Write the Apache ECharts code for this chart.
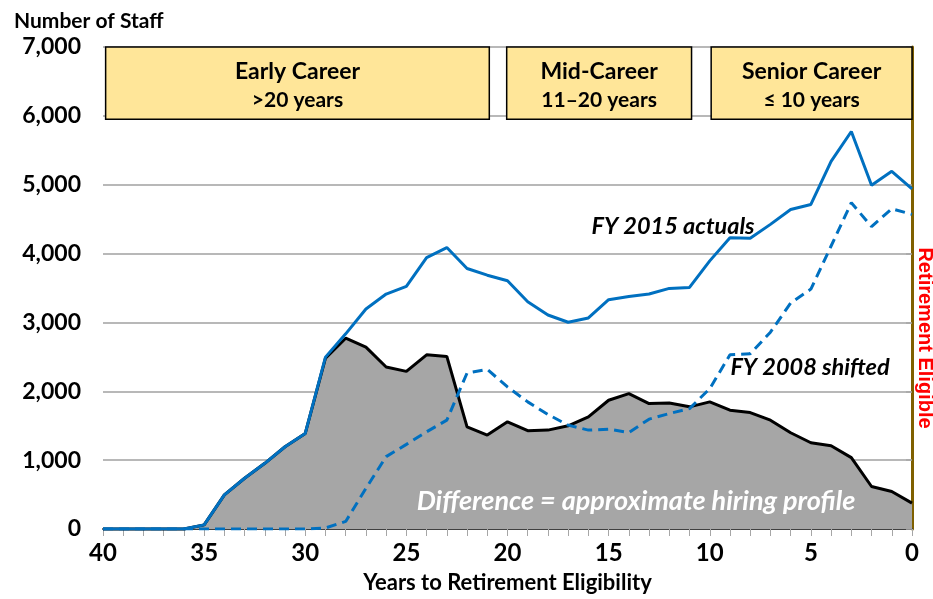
<!DOCTYPE html>
<html>
<head>
<meta charset="utf-8">
<title>Number of Staff by Years to Retirement Eligibility</title>
<script src="https://cdn.jsdelivr.net/npm/echarts@6/dist/echarts.min.js"></script>
<style>
  html, body { margin: 0; padding: 0; background: #ffffff; }
  #chart { width: 933px; height: 599px; }
</style>
</head>
<body>
<div id="chart"></div>
<script>
// Years to retirement eligibility, 40 down to 0
const years = [40, 39, 38, 37, 36, 35, 34, 33, 32, 31, 30, 29, 28, 27, 26, 25, 24, 23, 22, 21,
               20, 19, 18, 17, 16, 15, 14, 13, 12, 11, 10, 9, 8, 7, 6, 5, 4, 3, 2, 1, 0];

// FY 2015 actual staff counts
const fy2015Actuals = [0, 0, 0, 0, 0, 60, 496, 737, 954, 1195, 1388, 2496, 2834, 3195, 3412, 3523,
                       3942, 4087, 3783, 3686, 3605, 3301, 3108, 3003, 3065, 3330, 3378, 3412, 3494,
                       3508, 3894, 4231, 4221, 4424, 4641, 4713, 5339, 5773, 4992, 5194, 4940];

// FY 2008 staff counts shifted forward
const fy2008Shifted = [0, 0, 0, 0, 0, 0, 0, 0, 0, 0, 0, 15, 110, 590, 1051, 1229, 1412, 1581, 2265,
                       2318, 2063, 1846, 1663, 1508, 1436, 1450, 1402, 1595, 1677, 1749, 2038, 2530,
                       2544, 2858, 3282, 3484, 4110, 4738, 4391, 4651, 4569];

// Difference between the two: approximate hiring profile
const hiringProfile = [0, 0, 0, 0, 0, 60, 496, 737, 954, 1195, 1388, 2480, 2771, 2641, 2352, 2289,
                       2530, 2506, 1484, 1364, 1557, 1427, 1436, 1499, 1629, 1870, 1966, 1822, 1831,
                       1774, 1846, 1725, 1691, 1580, 1398, 1253, 1210, 1037, 617, 545, 376];

// Career stage bands
const stageNames = ['Early Career', 'Mid-Career', 'Senior Career'];
const stageSpans = ['>20 years', '11\u201320 years', '\u2264 10 years'];

// Y-axis tick values
const yTicks = [0, 1000, 2000, 3000, 4000, 5000, 6000, 7000];

const FONT = 'Lato, "Open Sans", sans-serif';
const pair = (arr) => years.map((y, i) => [y, arr[i]]);

// band extents on the axes (years, staff)
const bandBoxes = [
  [39.87, 20.9],
  [20.04, 10.9],
  [9.93, 0]
];
const bandBottom = 5950, bandTop = 7050;

const chart = echarts.init(document.getElementById('chart'), null, { renderer: 'canvas' });

const option = {
  backgroundColor: '#ffffff',
  animation: false,
  title: {
    text: 'Number of Staff',
    left: 9, top: 6,
    textStyle: { fontFamily: FONT, fontSize: 21, fontWeight: 'bold', color: '#000' }
  },
  grid: { left: 103, right: 21, top: 47, bottom: 68 },
  xAxis: {
    type: 'value',
    min: 0, max: 40, interval: 1,
    inverse: true,
    name: 'Years to Retirement Eligibility',
    nameLocation: 'middle',
    nameGap: 43,
    nameTextStyle: { fontFamily: FONT, fontSize: 22, fontWeight: 'bold', color: '#000' },
    axisLine: { show: true, lineStyle: { color: '#404040', width: 2 } },
    axisTick: { show: true, length: 7, lineStyle: { color: '#a6a6a6', width: 1 } },
    axisLabel: {
      margin: 12,
      fontFamily: FONT, fontSize: 24, fontWeight: 'bold', color: '#000',
      formatter: (v) => (v % 5 === 0 ? String(v) : '')
    },
    splitLine: { show: false }
  },
  yAxis: [
    {
      type: 'value',
      min: yTicks[0], max: yTicks[yTicks.length - 1], interval: 1000,
      axisLine: { show: true, lineStyle: { color: '#a6a6a6', width: 1.5 } },
      axisTick: { show: true, length: 6, lineStyle: { color: '#a6a6a6', width: 1.5 } },
      axisLabel: {
        margin: 22,
        fontFamily: FONT, fontSize: 23, fontWeight: 'bold', color: '#000',
        formatter: (v) => v.toLocaleString('en-US')
      },
      splitLine: { show: true, lineStyle: { color: '#a0a0a0', width: 1.5 } }
    },
    {
      // retirement eligibility boundary at year 0
      type: 'value',
      position: 'right',
      min: yTicks[0], max: yTicks[yTicks.length - 1], interval: 1000,
      axisLine: { show: true, onZero: false, lineStyle: { color: '#7f6000', width: 3 } },
      axisTick: { show: false },
      axisLabel: { show: false },
      splitLine: { show: false }
    }
  ],
  series: [
    {
      name: 'Difference',
      type: 'line',
      data: pair(hiringProfile),
      symbol: 'none',
      clip: false,
      z: 2,
      lineStyle: { color: '#000000', width: 3 },
      areaStyle: { color: '#a6a6a6', opacity: 1 },
      markArea: {
        silent: true,
        itemStyle: { color: '#ffe699', borderColor: '#000', borderWidth: 1.5, opacity: 1 },
        label: {
          show: true,
          position: 'inside',
          color: '#000',
          fontFamily: FONT,
          padding: [5, 0, 0, 0],
          formatter: (p) => '{a|' + p.name + '}\n{b|' + stageSpans[stageNames.indexOf(p.name)] + '}',
          rich: {
            a: { fontFamily: FONT, fontSize: 23, fontWeight: 'bold', color: '#000', lineHeight: 29 },
            b: { fontFamily: FONT, fontSize: 21, fontWeight: 'bold', color: '#000', lineHeight: 29 }
          }
        },
        data: stageNames.map((name, i) => [
          { name: name, xAxis: bandBoxes[i][0], yAxis: bandBottom },
          { xAxis: bandBoxes[i][1], yAxis: bandTop }
        ])
      }
    },
    {
      name: 'FY 2008 shifted',
      type: 'line',
      data: pair(fy2008Shifted),
      symbol: 'none',
      z: 3,
      lineStyle: { color: '#0070c0', width: 3, type: [10, 6] }
    },
    {
      name: 'FY 2015 actuals',
      type: 'line',
      data: pair(fy2015Actuals),
      symbol: 'none',
      z: 4,
      lineStyle: { color: '#0070c0', width: 3 }
    }
  ],
  graphic: [
    {
      type: 'text', x: 673, y: 226, z: 10,
      style: { text: 'FY 2015 actuals', align: 'center', verticalAlign: 'middle',
               font: 'italic bold 23.5px ' + FONT, fill: '#000' }
    },
    {
      type: 'text', x: 810, y: 367, z: 10,
      style: { text: 'FY 2008 shifted', align: 'center', verticalAlign: 'middle',
               font: 'italic bold 23.5px ' + FONT, fill: '#000' }
    },
    {
      type: 'text', x: 636, y: 501, z: 10,
      style: { text: 'Difference = approximate hiring profile', align: 'center', verticalAlign: 'middle',
               font: 'italic bold 27px ' + FONT, fill: '#ffffff' }
    },
    {
      type: 'text', x: 925, y: 338, rotation: -Math.PI / 2, z: 10,
      style: { text: 'Retirement Eligible', align: 'center', verticalAlign: 'middle',
               font: 'bold 20px "Liberation Sans", Arial, sans-serif', fill: '#ff0000' }
    }
  ]
};

chart.setOption(option);
</script>
</body>
</html>
